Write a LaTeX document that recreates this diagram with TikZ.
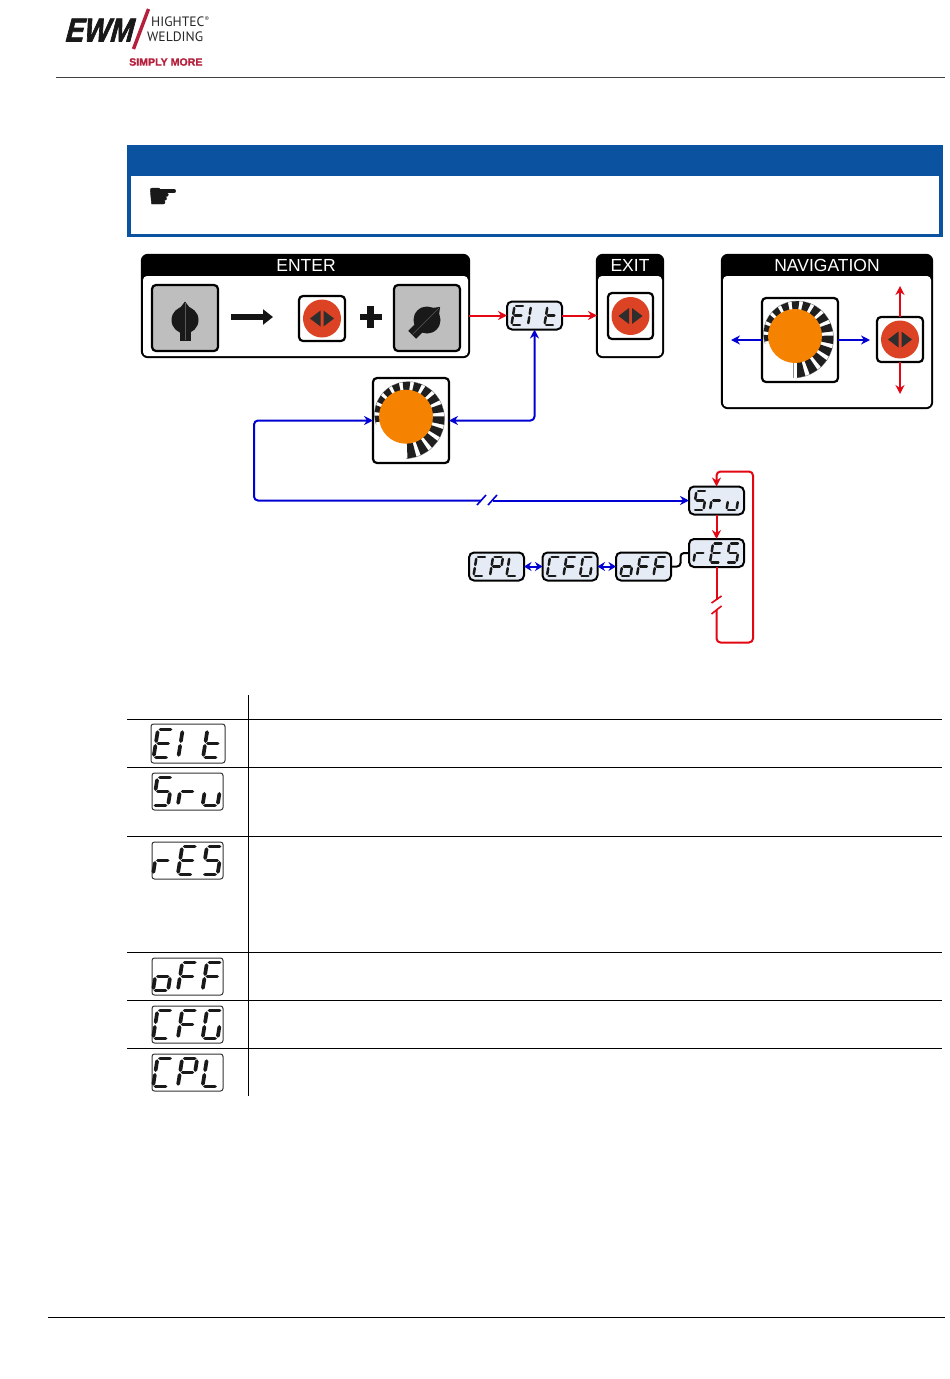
\documentclass[tikz,border=0pt]{standalone}
\usepackage{fontspec}
\setmainfont{Liberation Sans}
\newfontfamily\ewmfont[BoldItalicFeatures={FakeBold=2.4}]{Liberation Sans}
\newfontfamily\smfont[BoldFeatures={FakeBold=1.2}]{Liberation Sans}
\newfontfamily\logofont{PT Sans}
\newfontfamily\symfont[FakeBold=1]{DejaVu Sans}
\usetikzlibrary{arrows.meta,calc}
\definecolor{nblue}{HTML}{0B52A0}
\definecolor{lcdfill}{HTML}{E6ECF6}
\definecolor{cred}{HTML}{E30613}
\definecolor{cblue}{HTML}{0000D2}
\definecolor{btnred}{HTML}{DC4324}
\definecolor{knoborange}{HTML}{F58200}
\definecolor{crim}{HTML}{B5203C}
\definecolor{keygray}{HTML}{BEBEBE}
\tikzset{
  panel/.style={draw=black,fill=black,line width=2.4pt,rounded corners=6pt,inner sep=0pt,outer sep=0pt},
  ctrlbox/.style={draw=black,fill=white,line width=2.2pt,rounded corners=4pt,inner sep=0pt,outer sep=0pt},
  graybox/.style={ctrlbox,fill=keygray},
  lcdbox/.style={draw=black,fill=lcdfill,line width=2pt,rounded corners=5pt,minimum width=55pt,minimum height=28pt,inner sep=0pt,outer sep=0pt},
  tblbox/.style={draw=black!80,fill=white,line width=1pt,rounded corners=2.5pt,inner sep=0pt,outer sep=0pt},
  headtxt/.style={text=white,font=\fontsize{17.5}{19}\selectfont,inner sep=0pt},
  redline/.style={draw=cred,line width=2pt},
  blueline/.style={draw=cblue,line width=2pt},
  redarrow/.style={redline,-{Stealth[length=9pt,width=9pt]}},
  bluearrow/.style={blueline,-{Stealth[length=9pt,width=9pt]}},
  bluedouble/.style={blueline,{Stealth[length=7.5pt,width=9pt]}-{Stealth[length=7.5pt,width=9pt]}},
  lcdseg/.style={line cap=round},
  rule/.style={draw=black,line width=.9pt}
}
% seven-segment elements
\def\lcdsa{\draw[lcdseg] (-3.4,-9.3)--(3.4,-9.3);}
\def\lcdsb{\draw[lcdseg] (5,-7.6)--(5,-1.6);}
\def\lcdsc{\draw[lcdseg] (5,1.6)--(5,7.6);}
\def\lcdsd{\draw[lcdseg] (-3.4,9.3)--(3.4,9.3);}
\def\lcdse{\draw[lcdseg] (-5,1.6)--(-5,7.6);}
\def\lcdsf{\draw[lcdseg] (-5,-7.6)--(-5,-1.6);}
\def\lcdsg{\draw[lcdseg] (-3.3,0)--(3.3,0);}
\def\lcdcE{a,f,g,e,d}
\def\lcdcI{f,e}
\def\lcdct{f,e,g,d}
\def\lcdcS{a,f,g,c,d}
\def\lcdcr{e,g}
\def\lcdcu{e,d,c}
\def\lcdco{g,e,d,c}
\def\lcdcF{a,f,g,e}
\def\lcdcC{a,f,e,d}
\def\lcdcG{a,f,e,d,c}
\def\lcdcP{a,b,f,g,e}
\def\lcdcL{f,e,d}
% #1 anchor node, #2 scale, #3 line width, #4 chars
\newcommand\lcdglyphs[4]{%
  \begin{scope}[shift={(#1.center)},xscale=#2,yscale=#2,xslant=.16,line width=#3pt,draw=black!90]
    \foreach \ch [count=\ci from -1] in {#4}{%
      \begin{scope}[xshift=\ci*16.5pt]
        \edef\seglist{\csname lcdc\ch\endcsname}%
        \foreach \s in \seglist {\csname lcds\s\endcsname}%
      \end{scope}
    }
  \end{scope}}
% #1 x,y  #2 rotation
\newcommand\selector[2]{%
  \begin{scope}[shift={(#1)},rotate=#2]
    \fill[black!90] (0,0) circle (13.5);
    \fill[black!90] (0,-18.5) -- (-6.5,-10) -- (6.5,-10) -- cycle;
    \fill[black!90] (-5.5,0) rectangle (5.5,21);
    \draw[black!65,line width=.4pt] (0,-17) -- (0,20);
  \end{scope}}
% #1 anchor node
\newcommand\arrowbutton[1]{%
  \fill[btnred] (#1.center) circle (19);
  \fill[black!82] ($(#1.center)+(-1.5,-8)$) -- ($(#1.center)+(-12,0)$) -- ($(#1.center)+(-1.5,8)$) -- cycle;
  \fill[black!82] ($(#1.center)+(1.5,-8)$) -- ($(#1.center)+(12,0)$) -- ($(#1.center)+(1.5,8)$) -- cycle;}
% #1 centre x,y
\newcommand\dial[1]{%
  \begin{scope}[shift={(#1)},y=1pt]
    \draw[black!45,line width=.5pt,domain=-90:195,samples=60,smooth,variable=\t]
      plot (\t:{42-11*(\t+90)/280});
    \foreach \i in {0,...,14}{
      \pgfmathsetmacro\aone{-88+19*\i}
      \pgfmathsetmacro\atwo{\aone+12.5}
      \pgfmathsetmacro\rone{42-11*(\aone+90)/280}
      \pgfmathsetmacro\rtwo{42-11*(\atwo+90)/280}
      \fill[black!88] (\aone:24) -- (\aone:\rone) -- (\atwo:\rtwo) -- (\atwo:24) -- cycle;
    }
    \fill[knoborange] (0,0) circle (27);
  \end{scope}}
\begin{document}
\begin{tikzpicture}[x=1pt,y=-1pt]
\useasboundingbox (0,0) rectangle (950,1379);
\fill[white] (0,0) rectangle (950,1379);

% --- logo
\node[inner sep=0pt,font=\ewmfont\bfseries\itshape\fontsize{33}{33}\selectfont,xscale=.84,xslant=.12,text=black!90] (logoewm) at (100.5,30) {EWM};
\draw[crim,line width=3.4pt] (148.5,9) -- (133.5,49);
\node[anchor=west,inner sep=0pt,font=\logofont\fontsize{13.6}{13.6}\selectfont,text=black!85] (logohi) at (151,21.5) {HIGHTEC};
\node[anchor=west,inner sep=0pt,font=\logofont\fontsize{6.5}{7}\selectfont,text=black!85] (logor) at (204.5,19) {®};
\node[anchor=west,inner sep=0pt,font=\logofont\fontsize{13.6}{13.6}\selectfont,text=black!85] (logowe) at (147,36.5) {WELDING};
\node[anchor=west,inner sep=0pt,font=\smfont\bfseries\fontsize{10.6}{12}\selectfont,text=crim] (logosm) at (129,62) {SIMPLY MORE};
\draw[black!75,line width=1.6pt] (56,77.5) -- (945,77.5);

% --- notice box
\fill[nblue] (127,145) rectangle (943,237);
\fill[white] (131,176) rectangle (939,233.5);
\node[inner sep=0pt,font=\symfont\fontsize{35}{35}\selectfont,text=black!90] (hand) at (163,198) {☛};

% --- ENTER panel
\node[panel,minimum width=327pt,minimum height=102pt] (enter) at (305.5,306) {};
\fill[white,rounded corners=4pt] (143,276) rectangle (468,356);
\node[headtxt] (entert) at (306,265) {ENTER};
\node[graybox,minimum width=66pt,minimum height=66pt] (sw1) at (185,318) {};
\selector{185,320}{0}
\coordinate (bigA) at (231,317);
\coordinate (bigB) at (273,317);
\draw[line width=5.5pt,black!92,-{Triangle[length=10pt,width=15pt]}] (bigA) -- (bigB);
\node[ctrlbox,minimum width=46pt,minimum height=45pt] (btn1) at (322,318.5) {};
\arrowbutton{btn1}
\node[inner sep=0pt,minimum size=0pt] (plus) at (370.5,317) {};
\fill[black!92] ($(plus)+(-11,-3.2)$) rectangle ($(plus)+(11,3.2)$);
\fill[black!92] ($(plus)+(-3.2,-11)$) rectangle ($(plus)+(3.2,11)$);
\node[graybox,minimum width=66pt,minimum height=66pt] (sw2) at (427,318) {};
\selector{427,320}{-45}

% --- EXIT panel
\node[panel,minimum width=66pt,minimum height=102pt] (exit) at (630,306) {};
\fill[white,rounded corners=4pt] (598,276) rectangle (662,356);
\node[headtxt] (exitt) at (630,265) {EXIT};
\node[ctrlbox,minimum width=45pt,minimum height=46pt] (btn2) at (630.5,316) {};
\arrowbutton{btn2}

% --- NAVIGATION panel
\node[panel,minimum width=210pt,minimum height=153pt] (nav) at (827,331.5) {};
\fill[white,rounded corners=4pt] (723,276) rectangle (931,407);
\node[headtxt] (navt) at (827,265) {NAVIGATION};
\node[ctrlbox,minimum width=76pt,minimum height=84pt] (navdial) at (800,340) {};
\dial{795,336}
\fill[white] (793.5,363) rectangle (797,378);
\draw[black!45,line width=.5pt] (793.5,363) -- (793.5,378);
\node[ctrlbox,minimum width=46pt,minimum height=45pt] (btn3) at (900,339.5) {};
\arrowbutton{btn3}
\coordinate (navL) at (731,340);
\coordinate (navR) at (870,340);
\coordinate (navU) at (900,286);
\coordinate (navD) at (900,394);
\draw[bluearrow] (navdial.west |- navL) -- (navL);
\draw[bluearrow] (navdial.east |- navR) -- (navR);
\draw[redarrow] (btn3.north) -- (navU);
\draw[redarrow] (btn3.south) -- (navD);

% --- central dial
\node[ctrlbox,minimum width=76pt,minimum height=85pt] (dialbox) at (411,420.5) {};
\dial{406,416.7}

% --- flow displays
\node[lcdbox] (eit) at (534.5,315.5) {};
\node[lcdbox] (sru) at (716.5,500.5) {};
\node[lcdbox] (res) at (716.5,553) {};
\node[lcdbox] (off) at (643.5,566.5) {};
\node[lcdbox] (cfg) at (570,566.5) {};
\node[lcdbox] (cpl) at (496.5,566.5) {};
\lcdglyphs{eit}{1}{2.5}{E,I,t}
\lcdglyphs{sru}{1}{2.5}{S,r,u}
\lcdglyphs{res}{1}{2.5}{r,E,S}
\lcdglyphs{off}{1}{2.5}{o,F,F}
\lcdglyphs{cfg}{1}{2.5}{C,F,G}
\lcdglyphs{cpl}{1}{2.5}{C,P,L}

% --- flow connectors
\draw[redarrow] (eit.west -| enter.east) -- (eit.west);
\draw[redarrow] (eit.east) -- (eit.east -| exit.west);
\draw[blueline,{Stealth[length=9pt,width=9pt]}-{Stealth[length=9pt,width=9pt]},rounded corners=4pt]
  (eit.south) -- (eit.south |- dialbox.east) -- (dialbox.east);
\coordinate (breakB) at (481,500.5);
\coordinate (breakC) at (493,500.5);
\coordinate (lowL) at (254,500.5);
\draw[blueline,rounded corners=4pt,{Stealth[length=9pt,width=9pt]}-] (dialbox.west) -- (lowL |- dialbox.west) -- (lowL) -- (breakB);
\draw[bluearrow] (breakC) -- (sru.west);
\draw[blueline,line width=1.6pt] (477,505) -- (486,495) (488,505) -- (497,495);
\draw[bluedouble] (cpl.east) -- (cfg.west);
\draw[bluedouble] (cfg.east) -- (off.west);
\draw[black,line width=2pt,rounded corners=3.5pt] (off.east) -- ++(9.5,0) |- (res.west);
\draw[redarrow] (sru.south) -- (res.north);
\coordinate (brkT) at (716.5,600);
\coordinate (brkB) at (716.5,610);
\coordinate (loopBL) at (716.5,642.5);
\coordinate (loopBR) at (753,642.5);
\coordinate (loopTR) at (753,471.5);
\draw[redline] (res.south) -- (brkT);
\draw[redline,-{Stealth[length=9pt,width=9pt]},rounded corners=4pt] (brkB) -- (loopBL) -- (loopBR) -- (loopTR) -- (sru.north |- loopTR) -- (sru.north);
\draw[redline,line width=1.6pt] (711.5,603) -- (721.5,596) (711.5,614) -- (721.5,606);

% --- table
\foreach \yy in {719,767,836,952,1000,1048}{\draw[rule] (127,\yy) -- (942,\yy);}
\draw[rule] (248,695) -- (248,1096);
\node[tblbox,minimum width=74pt,minimum height=39pt] (teit) at (188,743.5) {};
\node[tblbox,minimum width=71pt,minimum height=37pt] (tsru) at (187.5,791.5) {};
\node[tblbox,minimum width=71pt,minimum height=37pt] (tres) at (187.5,860.5) {};
\node[tblbox,minimum width=71pt,minimum height=37pt] (toff) at (187.5,976.5) {};
\node[tblbox,minimum width=71pt,minimum height=37pt] (tcfg) at (187.5,1024.5) {};
\node[tblbox,minimum width=71pt,minimum height=37pt] (tcpl) at (187.5,1072.5) {};
\lcdglyphs{teit}{1.5}{3.7}{E,I,t}
\lcdglyphs{tsru}{1.5}{3.7}{S,r,u}
\lcdglyphs{tres}{1.5}{3.7}{r,E,S}
\lcdglyphs{toff}{1.5}{3.7}{o,F,F}
\lcdglyphs{tcfg}{1.5}{3.7}{C,F,G}
\lcdglyphs{tcpl}{1.5}{3.7}{C,P,L}

% --- footer rule
\draw[rule] (48,1317) -- (945,1317);
\end{tikzpicture}
\end{document}
